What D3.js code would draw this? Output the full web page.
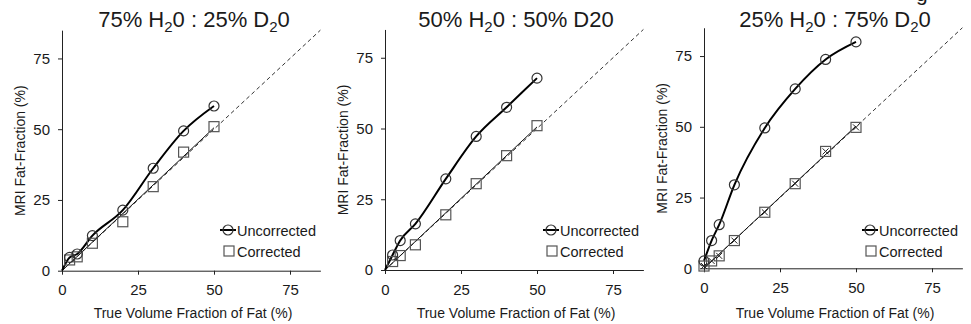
<!DOCTYPE html>
<html>
<head>
<meta charset="utf-8">
<script src="https://cdn.jsdelivr.net/npm/d3@7"></script>
<style>
  body { margin: 0; background: #fff; }
  text { font-family: "Liberation Sans", Arial, sans-serif; fill: #1a1a1a; }
</style>
</head>
<body>
<div id="chart"></div>
<script>
// true fat fractions (x) and measured MRI fat fractions (y)
var fatX = [2.5, 5, 10, 20, 30, 40, 50];
var fatX3 = [0, 2.5, 5, 10, 20, 30, 40, 50];

var uncorr1 = [4.7, 5.9, 12.4, 21.4, 36.2, 49.4, 58.2];
var corr1 = [3.8, 4.9, 9.7, 17.3, 29.7, 41.9, 50.9];

var uncorr2 = [5.3, 10.4, 16.3, 32.2, 47.2, 57.5, 67.8];
var corr2 = [3.0, 5.1, 8.9, 19.5, 30.5, 40.4, 51.0];

var uncorr3 = [2.6, 9.8, 15.4, 29.5, 49.6, 63.4, 73.8, 80.0];
var corr3 = [0.8, 2.6, 4.4, 9.8, 19.8, 29.9, 41.3, 49.8];

var ticks = [0, 25, 50, 75];
var titles = [
  [["75% H", 0], ["2", 1], ["0 : 25% D", 0], ["2", 1], ["0", 0]],
  [["50% H", 0], ["2", 1], ["0 : 50% D20", 0]],
  [["25% H", 0], ["2", 1], ["0 : 75% D", 0], ["2", 1], ["0", 0]]
];

var panels = [
  {x0: 62, y0: 270.7, xs: fatX, u: uncorr1, c: corr1, title: titles[0], tx: 194, crosses: false},
  {x0: 385, y0: 270, xs: fatX, u: uncorr2, c: corr2, title: titles[1], tx: 516, crosses: false},
  {x0: 704, y0: 268.3, xs: fatX3, u: uncorr3, c: corr3, title: titles[2], tx: 835, crosses: true}
];

var svg = d3.select("#chart")
    .append("svg")
    .attr("width", 971)
    .attr("height", 324);

// scrap of a line of text cut off above the figure
svg.append("text")
    .attr("x", 916)
    .attr("y", 1)
    .style("font-size", "21px")
    .text("g");

var legY1 = 230; // uncorrected legend row
var legY2 = 251; // corrected legend row

function styleAxis(a) {
  a.select(".domain").attr("stroke", "#222");
  a.selectAll("line").attr("stroke", "#222");
  a.selectAll("text").style("font-size", "15px").attr("fill", "#1a1a1a");
}

panels.forEach(function (p) {
  var x = d3.scaleLinear().domain([0, 85]).range([p.x0, p.x0 + 85 * 3.04]);
  var y = d3.scaleLinear().domain([0, 85]).range([p.y0, p.y0 - 85 * 2.83]);

  var g = svg.append("g");

  // axes
  g.append("g")
      .attr("transform", "translate(0," + p.y0 + ")")
      .call(d3.axisBottom(x).tickValues(ticks).tickSize(4).tickSizeOuter(0).tickPadding(10))
      .call(styleAxis);

  g.append("g")
      .attr("transform", "translate(" + p.x0 + ",0)")
      .call(d3.axisLeft(y).tickValues(ticks).tickSize(4).tickSizeOuter(0).tickPadding(8))
      .call(styleAxis);

  // axis titles
  g.append("text")
      .attr("x", p.x0 + 131)
      .attr("y", 318)
      .attr("text-anchor", "middle")
      .style("font-size", "14px")
      .text("True Volume Fraction of Fat (%)");

  g.append("text")
      .attr("transform", "translate(" + (p.x0 - 37) + "," + (p.y0 - 120) + ") rotate(-90)")
      .attr("text-anchor", "middle")
      .style("font-size", "14px")
      .text("MRI Fat-Fraction (%)");

  // panel title with subscripts
  var t = g.append("text")
      .attr("x", p.tx)
      .attr("y", 27)
      .attr("text-anchor", "middle")
      .style("font-size", "22px");
  p.title.forEach(function (part, i) {
    var dy = 0;
    if (part[1]) dy = 5;
    else if (i > 0 && p.title[i - 1][1]) dy = -5;
    t.append("tspan")
        .attr("dy", dy)
        .style("font-size", part[1] ? "15px" : "22px")
        .text(part[0]);
  });

  // identity line
  g.append("line")
      .attr("x1", x(0)).attr("y1", y(0))
      .attr("x2", x(85)).attr("y2", y(85))
      .attr("stroke", "#333")
      .attr("stroke-width", 1)
      .attr("stroke-dasharray", "4,3");

  var pts = p.xs.map(function (v, i) { return [v, p.u[i]]; });
  var cpts = p.xs.map(function (v, i) { return [v, p.c[i]]; });

  // thin fit through the origin for the corrected values
  var sxy = d3.sum(cpts, function (d) { return d[0] * d[1]; });
  var sxx = d3.sum(cpts, function (d) { return d[0] * d[0]; });
  var slope = sxy / sxx;
  g.append("line")
      .attr("x1", x(0)).attr("y1", y(0))
      .attr("x2", x(50)).attr("y2", y(50 * slope))
      .attr("stroke", "#111")
      .attr("stroke-width", 1);

  // uncorrected smooth line
  var linePts = pts[0][0] === 0 ? pts : [[0, 0]].concat(pts);
  g.append("path")
      .datum(linePts)
      .attr("fill", "none")
      .attr("stroke", "#000")
      .attr("stroke-width", 2)
      .attr("d", d3.line()
          .x(function (d) { return x(d[0]); })
          .y(function (d) { return y(d[1]); })
          .curve(d3.curveMonotoneX));

  // corrected squares
  g.selectAll(".sq")
      .data(cpts)
      .enter().append("rect")
      .attr("x", function (d) { return x(d[0]) - 5; })
      .attr("y", function (d) { return y(d[1]) - 5; })
      .attr("width", 10)
      .attr("height", 10)
      .attr("fill", "none")
      .attr("stroke", "#555")
      .attr("stroke-width", 1.2);

  if (p.crosses) {
    g.selectAll(".cx")
        .data(cpts)
        .enter().append("path")
        .attr("transform", function (d) { return "translate(" + x(d[0]) + "," + y(d[1]) + ")"; })
        .attr("d", "M-3,-3L3,3M-3,3L3,-3")
        .attr("stroke", "#222")
        .attr("stroke-width", 1);
  }

  // uncorrected circles
  g.selectAll(".ci")
      .data(pts)
      .enter().append("circle")
      .attr("cx", function (d) { return x(d[0]); })
      .attr("cy", function (d) { return y(d[1]); })
      .attr("r", 5)
      .attr("fill", "none")
      .attr("stroke", "#333")
      .attr("stroke-width", 1.2);

  // legend
  var lx = p.x0 + 158;
  g.append("line")
      .attr("x1", lx).attr("x2", lx + 16)
      .attr("y1", legY1).attr("y2", legY1)
      .attr("stroke", "#000").attr("stroke-width", 2);
  g.append("circle")
      .attr("cx", lx + 8).attr("cy", legY1).attr("r", 5)
      .attr("fill", "none").attr("stroke", "#333").attr("stroke-width", 1.2);
  g.append("text")
      .attr("x", lx + 17).attr("y", legY1 + 5.5)
      .style("font-size", "14.5px")
      .text("Uncorrected");
  g.append("rect")
      .attr("x", lx + 4).attr("y", legY2 - 5)
      .attr("width", 10).attr("height", 10)
      .attr("fill", "none").attr("stroke", "#555").attr("stroke-width", 1.2);
  g.append("text")
      .attr("x", lx + 17).attr("y", legY2 + 5.5)
      .style("font-size", "14.5px")
      .text("Corrected");
});
</script>
</body>
</html>
